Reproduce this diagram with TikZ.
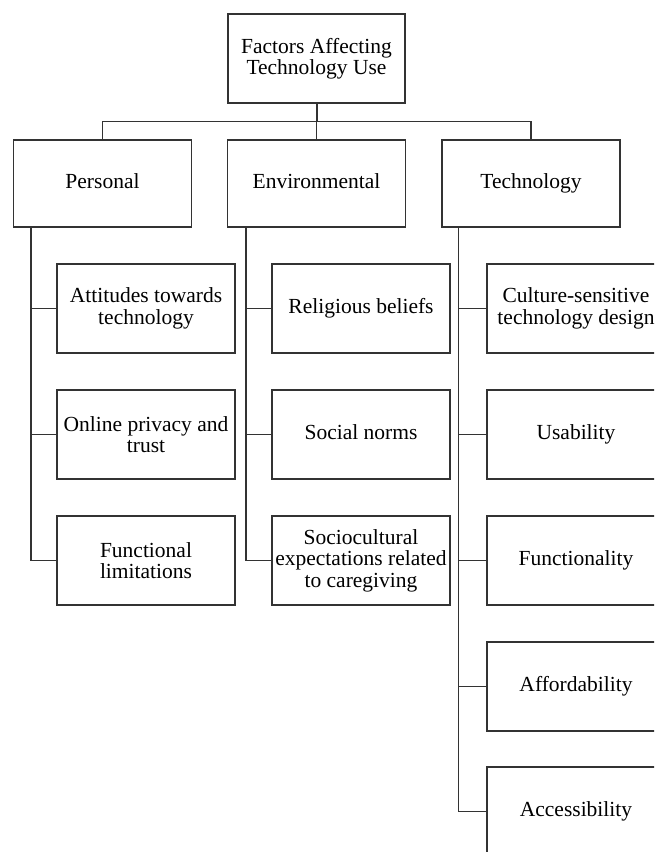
\documentclass[tikz,border=0pt]{standalone}
\usepackage{fontspec}
\setmainfont{Liberation Serif}
\tikzset{
  box/.style={draw=black!80, line width=1.3pt, align=center, inner sep=2pt,
    minimum width=178pt, minimum height=89pt, font=\fontsize{21.5}{21.5}\selectfont},
  oneline/.style={box, text height=14pt, text depth=5pt},
  headbox/.style={oneline, minimum height=87pt},
  link/.style={draw=black!80, line width=1.3pt}
}
\begin{document}
\begin{tikzpicture}[x=1pt,y=-1pt]
\useasboundingbox (0,0) rectangle (654,852);
\clip (0,0) rectangle (654,852);
\node[box, minimum width=177pt] (top) at (316.5,58.5) {Factors Affecting\\Technology Use};
\node[headbox] (personal) at (102.5,183.5) {Personal};
\node[headbox] (environ) at (316.5,183.5) {Environmental};
\node[headbox] (tech) at (531,183.5) {Technology};
\node[box] (attitude) at (146,308.5) {Attitudes towards\\technology};
\node[box] (privacy) at (146,434.5) {Online privacy and\\trust};
\node[box] (limits) at (146,560.5) {Functional\\limitations};
\node[oneline] (religion) at (361,308.5) {Religious beliefs};
\node[oneline] (norms) at (361,434.5) {Social norms};
\node[box] (caregiving) at (361,560.5) {Sociocultural\\expectations related\\to caregiving};
\node[box] (design) at (576,308.5) {Culture-sensitive\\technology design};
\node[oneline] (usability) at (576,434.5) {Usability};
\node[oneline] (function) at (576,560.5) {Functionality};
\node[oneline] (afford) at (576,686.5) {Affordability};
\node[oneline] (access) at (576,811.5) {Accessibility};
\draw[link, line width=2pt] (top.south) -- (top.south |- 0,122);
\draw[link] (personal.north) -- ++(0,-18) -| (tech.north);
\draw[link] (environ.north) -- ++(0,-18);
\coordinate (ptrunk) at ([xshift=18pt]personal.south west);
\coordinate (etrunk) at ([xshift=19pt]environ.south west);
\coordinate (ttrunk) at ([xshift=17pt]tech.south west);
\draw[link] (ptrunk) |- (limits.west);
\draw[link] (ptrunk |- attitude.west) -- (attitude.west);
\draw[link] (ptrunk |- privacy.west) -- (privacy.west);
\draw[link] (etrunk) |- (caregiving.west);
\draw[link] (etrunk |- religion.west) -- (religion.west);
\draw[link] (etrunk |- norms.west) -- (norms.west);
\draw[link] (ttrunk) |- (access.west);
\draw[link] (ttrunk |- design.west) -- (design.west);
\draw[link] (ttrunk |- usability.west) -- (usability.west);
\draw[link] (ttrunk |- function.west) -- (function.west);
\draw[link] (ttrunk |- afford.west) -- (afford.west);
\end{tikzpicture}
\end{document}
